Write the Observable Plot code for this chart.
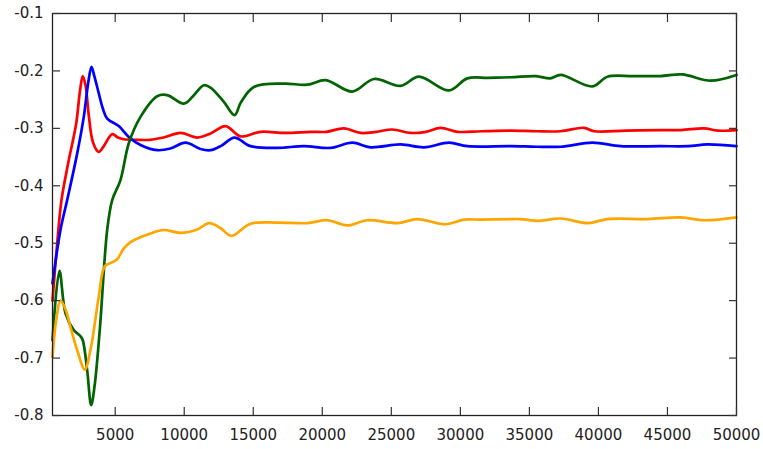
<!DOCTYPE html>
<html>
<head>
<meta charset="utf-8">
<script src="https://cdn.jsdelivr.net/npm/d3@7"></script>
<script src="https://cdn.jsdelivr.net/npm/@observablehq/plot@0.6"></script>
<style>
  body { margin: 0; background: #fff; }
  svg { display: block; }
</style>
</head>
<body>
<div id="chart"></div>
<script>
const xTicks = [5000, 10000, 15000, 20000, 25000, 30000, 35000, 40000, 45000, 50000];
const yTicks = [-0.8, -0.7, -0.6, -0.5, -0.4, -0.3, -0.2, -0.1];

const redX = [460, 800, 1110, 1600, 2174, 2450, 2652, 2850, 3100, 3400, 3812, 4200, 4783, 5200, 5623, 6500, 7500, 8500, 9732, 10942, 11904, 12992, 14080, 15529, 17300, 19152, 20300, 21565, 22775, 23900, 25072, 26399, 27500, 28572, 29782, 31500, 33645, 35500, 37261, 38956, 39681, 42000, 44493, 46000, 47652, 48623, 50000];
const redY = [-0.60, -0.50, -0.425, -0.36, -0.292, -0.235, -0.209, -0.225, -0.28, -0.325, -0.341, -0.33, -0.310, -0.316, -0.319, -0.320, -0.320, -0.316, -0.308, -0.316, -0.309, -0.296, -0.314, -0.306, -0.308, -0.306, -0.306, -0.300, -0.308, -0.306, -0.302, -0.308, -0.306, -0.299, -0.306, -0.305, -0.304, -0.305, -0.305, -0.299, -0.305, -0.304, -0.303, -0.303, -0.300, -0.304, -0.303];

const blueX = [460, 1036, 1522, 2246, 2725, 3050, 3283, 3500, 3812, 4100, 4420, 5261, 5986, 6833, 8043, 9007, 10094, 11181, 11904, 12700, 13645, 14804, 16739, 18671, 20604, 22174, 23500, 25671, 27362, 29174, 30507, 33645, 35500, 37261, 39565, 41623, 44493, 46500, 47894, 50000];
const blueY = [-0.57, -0.477, -0.425, -0.344, -0.280, -0.22, -0.193, -0.21, -0.239, -0.265, -0.283, -0.296, -0.315, -0.329, -0.338, -0.335, -0.325, -0.336, -0.338, -0.330, -0.316, -0.331, -0.334, -0.331, -0.334, -0.325, -0.333, -0.328, -0.333, -0.325, -0.331, -0.331, -0.332, -0.332, -0.325, -0.331, -0.331, -0.331, -0.328, -0.331];

const greenX = [460, 964, 1400, 2000, 2486, 2652, 2971, 3261, 3500, 3884, 4420, 4783, 5384, 5986, 6833, 8043, 8768, 9973, 10600, 11420, 11904, 12871, 13645, 14100, 15046, 17220, 18913, 20240, 22174, 23739, 25671, 27000, 29174, 30507, 32000, 33645, 35500, 36500, 37261, 39565, 40652, 42500, 44493, 46065, 48138, 50000];
const greenY = [-0.669, -0.548, -0.622, -0.651, -0.662, -0.669, -0.721, -0.782, -0.75, -0.651, -0.477, -0.425, -0.390, -0.326, -0.280, -0.244, -0.242, -0.257, -0.245, -0.225, -0.229, -0.254, -0.277, -0.255, -0.228, -0.222, -0.224, -0.216, -0.236, -0.214, -0.226, -0.210, -0.234, -0.213, -0.212, -0.211, -0.209, -0.213, -0.207, -0.227, -0.210, -0.209, -0.209, -0.206, -0.217, -0.207];

const orangeX = [460, 750, 1036, 1400, 1761, 2246, 2797, 3210, 3812, 4246, 4800, 5145, 5600, 6109, 7558, 8522, 9732, 10942, 11800, 12600, 13406, 14804, 16739, 18913, 20362, 21812, 23261, 25435, 26884, 28935, 30261, 31449, 33645, 34370, 35700, 37261, 39246, 40652, 43551, 45964, 47652, 50000];
const orangeY = [-0.698, -0.63, -0.600, -0.615, -0.646, -0.686, -0.720, -0.686, -0.593, -0.540, -0.533, -0.528, -0.510, -0.498, -0.483, -0.477, -0.482, -0.476, -0.465, -0.473, -0.487, -0.466, -0.464, -0.465, -0.460, -0.469, -0.460, -0.465, -0.458, -0.467, -0.459, -0.459, -0.458, -0.458, -0.461, -0.457, -0.465, -0.458, -0.458, -0.455, -0.460, -0.455];

const series = [
  {name: "red", color: "#ff0000", xs: redX, ys: redY},
  {name: "blue", color: "#0000ff", xs: blueX, ys: blueY},
  {name: "green", color: "#006400", xs: greenX, ys: greenY},
  {name: "orange", color: "#ffa500", xs: orangeX, ys: orangeY}
];

const lineMarks = series.map(s =>
  Plot.line(s.xs.map((x, i) => ({x, y: s.ys[i]})), {
    x: "x", y: "y", stroke: s.color, strokeWidth: 2.7, curve: "catmull-rom"
  })
);

const font = "DejaVu Sans, sans-serif";
const chart = Plot.plot({
  width: 763,
  height: 449,
  marginLeft: 52,
  marginRight: 27,
  marginTop: 13,
  marginBottom: 34,
  style: {fontFamily: font, fontSize: "15px", color: "#222", background: "#fff"},
  x: {domain: [460, 50000], ticks: xTicks},
  y: {domain: [-0.8, -0.1], ticks: yTicks},
  marks: [
    ...lineMarks,
    Plot.frame({stroke: "#222", strokeWidth: 1.3}),
    Plot.axisX(xTicks, {anchor: "bottom", tickSize: -8, text: null, label: null, stroke: "#333", strokeWidth: 1.2}),
    Plot.axisX(xTicks, {anchor: "top", tickSize: -8, text: null, label: null, stroke: "#333", strokeWidth: 1.2}),
    Plot.axisX(xTicks, {anchor: "bottom", tickSize: 0, tickPadding: 14, tickFormat: d => String(d), label: null, fill: "#222", fontSize: 15}),
    Plot.axisY(yTicks, {anchor: "left", tickSize: -8, text: null, label: null, stroke: "#333", strokeWidth: 1.2}),
    Plot.axisY(yTicks, {anchor: "right", tickSize: -8, text: null, label: null, stroke: "#333", strokeWidth: 1.2}),
    Plot.axisY(yTicks, {anchor: "left", tickSize: 0, tickPadding: 9, tickFormat: d => d.toFixed(1), label: null, fill: "#222", fontSize: 15})
  ]
});
document.getElementById("chart").appendChild(chart);
</script>
</body>
</html>
